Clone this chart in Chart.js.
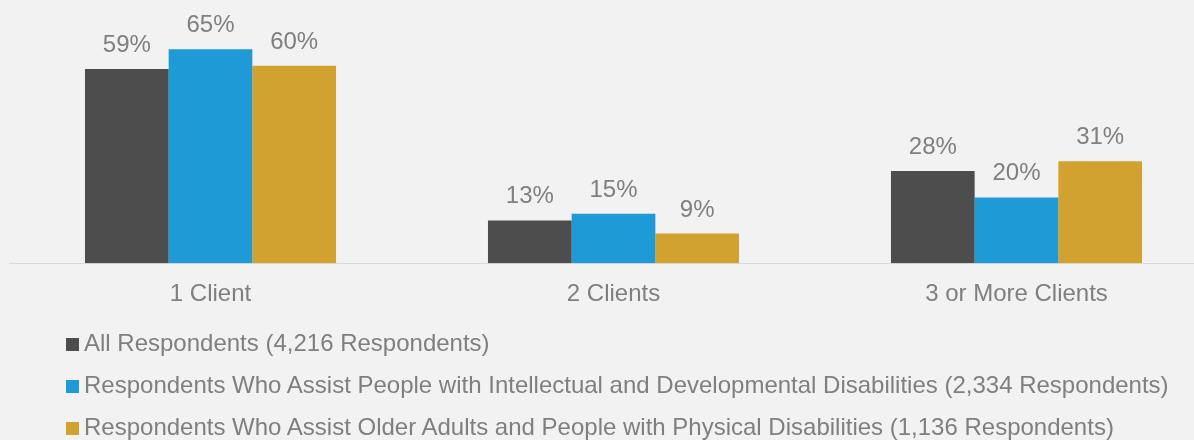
<!DOCTYPE html>
<html>
<head>
<meta charset="utf-8">
<script src="https://cdn.jsdelivr.net/npm/chart.js@4/dist/chart.umd.min.js"></script>
<style>
  html, body { margin: 0; padding: 0; background: #f2f2f2; overflow: hidden; }
  body { width: 1194px; height: 440px; position: relative; font-family: "Liberation Sans", Arial, sans-serif; }
  #chart { position: absolute; left: 0; top: 0; }
  #legend { position: absolute; left: 66px; top: 322px; font-size: 24px; line-height: 42px; color: #7f7f7f; white-space: nowrap; }
  #legend .box { display: inline-block; width: 13px; height: 13px; margin-right: 5px; }
</style>
</head>
<body>
<canvas id="chart" width="1218" height="326"></canvas>
<div id="legend"></div>
<script>
const categories = ["1 Client", "2 Clients", "3 or More Clients"];
const seriesNames = [
  "All Respondents (4,216 Respondents)",
  "Respondents Who Assist People with Intellectual and Developmental Disabilities (2,334 Respondents)",
  "Respondents Who Assist Older Adults and People with Physical Disabilities (1,136 Respondents)"
];
const allRespondents = [59, 13, 28];
const iddRespondents = [65, 15, 20];
const olderAdultRespondents = [60, 9, 31];
const seriesColors = ["#4d4d4d", "#1e9ad6", "#d1a22f"];

const textColor = "#7f7f7f";
const fontFamily = "'Liberation Sans', Arial, sans-serif";

// percent labels above each bar
const valueLabels = {
  id: "valueLabels",
  afterDatasetsDraw(chart) {
    const ctx = chart.ctx;
    ctx.save();
    ctx.font = "24px " + fontFamily;
    ctx.fillStyle = textColor;
    ctx.textAlign = "center";
    ctx.textBaseline = "alphabetic";
    chart.data.datasets.forEach((ds, i) => {
      chart.getDatasetMeta(i).data.forEach((bar, j) => {
        ctx.fillText(ds.data[j] + "%", bar.x, bar.y - 17);
      });
    });
    ctx.restore();
  }
};

const values = [allRespondents, iddRespondents, olderAdultRespondents];

new Chart(document.getElementById("chart"), {
  type: "bar",
  data: {
    labels: categories,
    datasets: seriesNames.map((name, i) => ({
      label: name,
      data: values[i],
      backgroundColor: seriesColors[i],
      borderWidth: 0,
      categoryPercentage: 0.623,
      barPercentage: 1.0
    }))
  },
  options: {
    responsive: false,
    animation: false,
    layout: { padding: { left: 9, right: 0, top: 0, bottom: 0 } },
    plugins: {
      legend: { display: false },
      tooltip: { enabled: false }
    },
    scales: {
      x: {
        grid: { display: false, drawTicks: false },
        border: { display: true, color: "#d9d9d9", width: 1 },
        ticks: {
          color: textColor,
          font: { size: 24, family: fontFamily },
          padding: 17
        }
      },
      y: {
        display: false,
        min: 0,
        max: 80
      }
    }
  },
  plugins: [valueLabels]
});

// legend rows, one per series
const legend = document.getElementById("legend");
seriesNames.forEach((name, i) => {
  const row = document.createElement("div");
  const box = document.createElement("span");
  box.className = "box";
  box.style.background = seriesColors[i];
  row.appendChild(box);
  row.appendChild(document.createTextNode(name));
  legend.appendChild(row);
});
</script>
</body>
</html>
